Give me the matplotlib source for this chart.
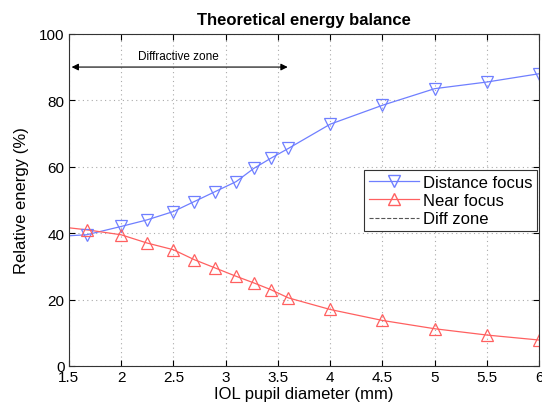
import matplotlib
matplotlib.use("Agg")
import matplotlib.pyplot as plt

plt.rcParams['font.family'] = ['Liberation Sans', 'DejaVu Sans']

# marker positions
x_pts = [1.67, 2.0, 2.25, 2.5, 2.7, 2.9, 3.1, 3.27, 3.43, 3.6, 4.0, 4.5, 5.0, 5.5, 6.0]
distance = [39.5, 42.0, 44.0, 46.5, 49.5, 52.5, 55.5, 59.5, 62.5, 65.5, 72.8, 78.5, 83.5, 85.5, 88.0]
near = [41.0, 39.5, 37.0, 35.0, 32.0, 29.5, 27.0, 25.0, 23.0, 20.5, 17.0, 13.7, 11.2, 9.3, 7.8]

# line curves (start at the left edge)
x_line = [1.5] + x_pts
distance_line = [39.2] + distance
near_line = [41.6] + near

zone_start, zone_end, zone_y = 1.5, 3.62, 90
zone_label = "Diffractive zone"

fig = plt.figure(figsize=(5.42, 4.10), dpi=100)
ax = fig.add_axes([0.127, 0.105, 0.868, 0.81])

blue = '#6f7fff'
red = '#ff6060'

ax.plot(x_line, distance_line, color=blue, lw=0.9)
ax.plot(x_line, near_line, color=red, lw=0.9)
ax.plot(x_pts, distance, linestyle='none', marker='v', ms=9, mfc='none', mec=blue, mew=0.9)
ax.plot(x_pts, near, linestyle='none', marker='^', ms=9, mfc='none', mec=red, mew=0.9)

# legend proxies
ax.plot([], [], color=blue, lw=0.9, marker='v', ms=9, mfc='none', mec=blue, label='Distance focus')
ax.plot([], [], color=red, lw=0.9, marker='^', ms=9, mfc='none', mec=red, label='Near focus')
ax.plot([], [], color='#555555', lw=0.8, ls='--', label='Diff zone')

ax.annotate('', xy=(zone_start, zone_y), xytext=(zone_end, zone_y),
            arrowprops=dict(arrowstyle='<|-|>', color='black', lw=0.8, mutation_scale=10))
ax.text((zone_start + zone_end) / 2 - 0.01, zone_y + 1.5, zone_label, fontsize=8.5,
        ha='center', va='bottom')

ax.set_xlim(1.5, 6)
ax.set_ylim(0, 100)
ax.set_xticks([1.5, 2, 2.5, 3, 3.5, 4, 4.5, 5, 5.5, 6])
ax.set_xticklabels(['1.5', '2', '2.5', '3', '3.5', '4', '4.5', '5', '5.5', '6'])
ax.set_yticks([0, 20, 40, 60, 80, 100])
ax.tick_params(direction='in', top=True, right=True, labelsize=11, length=4, pad=3)
ax.grid(True, linestyle=(0, (1, 3)), color='#aaaaaa', lw=0.8)
for s in ax.spines.values():
    s.set_color('#333333')
    s.set_linewidth(0.8)

ax.set_xlabel('IOL pupil diameter (mm)', fontsize=12, labelpad=1)
ax.set_ylabel('Relative energy (%)', fontsize=12, labelpad=7)
ax.set_title('Theoretical energy balance', fontsize=12, fontweight='bold', pad=7)

leg = ax.legend(loc='lower right', bbox_to_anchor=(0.996, 0.405), fontsize=12,
                frameon=True, fancybox=False, framealpha=1, edgecolor='#333333',
                borderpad=0.3, labelspacing=0.2, handlelength=3.0, handletextpad=0.25,
                borderaxespad=0)
leg.get_frame().set_linewidth(0.8)

fig.savefig('out.png', dpi=100)
